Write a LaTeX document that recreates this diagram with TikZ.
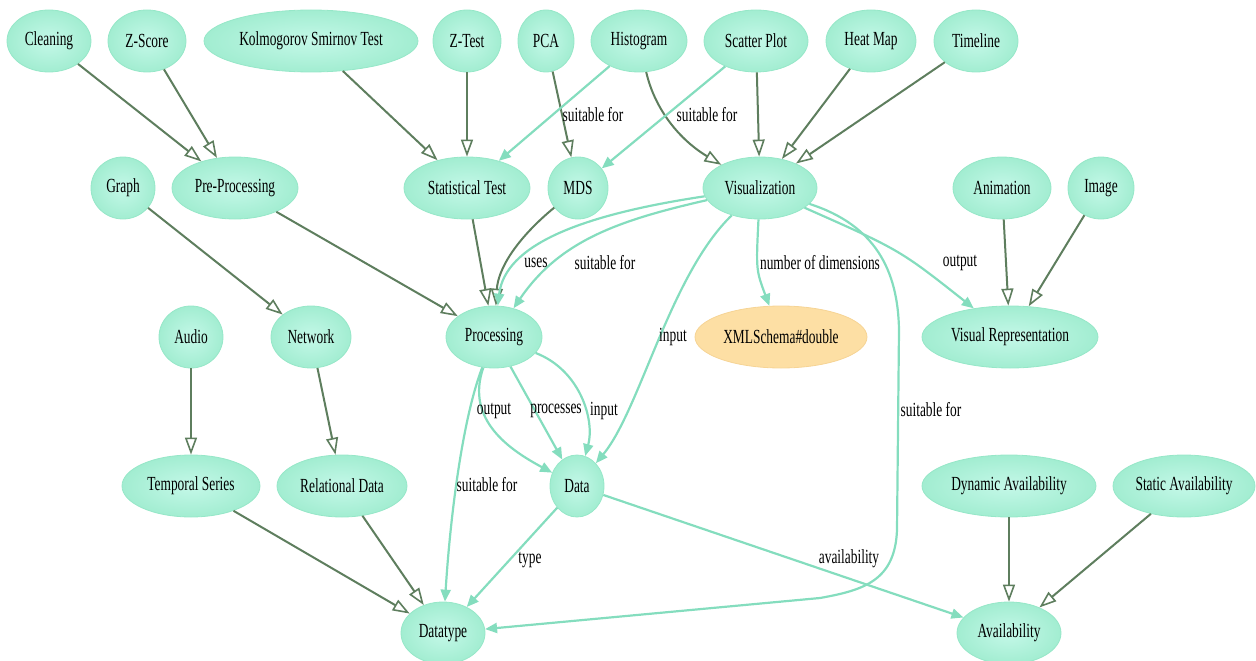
\documentclass[tikz,border=0pt]{standalone}
\usepackage{fontspec}
\setmainfont[FakeStretch=0.67]{Liberation Serif}
\usetikzlibrary{shapes.geometric,arrows.meta}
\definecolor{nodefill}{HTML}{A2EDD1}
\definecolor{nodeinner}{HTML}{C4F8E8}
\definecolor{nodeedge}{HTML}{96E7C8}
\definecolor{darkedge}{HTML}{5E7E5E}
\definecolor{mintedge}{HTML}{84DDBE}
\definecolor{orangefill}{HTML}{FDDFA4}
\definecolor{orangeedge}{HTML}{F6D495}
\begin{document}
\begin{tikzpicture}[x=1pt,y=-1pt,
  txt/.style={font=\fontsize{20}{20}\selectfont},
  ent/.style={ellipse, txt, inner sep=0pt, draw=nodeedge, line width=0.8pt,
    shade, inner color=nodeinner, outer color=nodefill, minimum height=62pt},
  lit/.style={ellipse, txt, inner sep=0pt, draw=orangeedge, line width=0.8pt,
    fill=orangefill, minimum height=62pt},
  isa/.style={darkedge, line width=2pt,
    -{Triangle[open, length=17pt, width=12pt, line width=1.6pt]}},
  prop/.style={mintedge, line width=2.2pt, -{Triangle[length=12pt, width=10pt]}},
  lbl/.style={txt, inner sep=1pt}]
\useasboundingbox (0,0) rectangle (1256,661);
% row 1
\node[ent, minimum width=84pt] (clean) at (49,41) {Cleaning};
\node[ent, minimum width=78pt] (zscore) at (147,41) {Z-Score};
\node[ent, minimum width=214pt] (ks) at (311,41) {Kolmogorov Smirnov Test};
\node[ent, minimum width=68pt] (ztest) at (467,41) {Z-Test};
\node[ent, minimum width=56pt] (pca) at (546,41) {PCA};
\node[ent, minimum width=96pt] (hist) at (639,41) {Histogram};
\node[ent, minimum width=104pt] (scatter) at (756,41) {Scatter Plot};
\node[ent, minimum width=90pt] (heat) at (871,41) {Heat Map};
\node[ent, minimum width=84pt] (time) at (976,41) {Timeline};
% row 2
\node[ent, minimum width=64pt] (graph) at (123,188) {Graph};
\node[ent, minimum width=126pt] (pre) at (235,188) {Pre-Processing};
\node[ent, minimum width=126pt] (stat) at (467,188) {Statistical Test};
\node[ent, minimum width=60pt] (mds) at (578,188) {MDS};
\node[ent, minimum width=114pt] (vis) at (760,188) {Visualization};
\node[ent, minimum width=98pt] (anim) at (1002,188) {Animation};
\node[ent, minimum width=66pt] (img) at (1101,188) {Image};
% row 3
\node[ent, minimum width=64pt] (audio) at (191,337) {Audio};
\node[ent, minimum width=80pt] (net) at (311,337) {Network};
\node[ent, minimum width=96pt] (proc) at (494,337) {Processing};
\node[lit, minimum width=172pt] (xml) at (781,337) {XMLSchema\#double};
\node[ent, minimum width=176pt] (visrep) at (1010,337) {Visual Representation};
% row 4
\node[ent, minimum width=138pt] (temp) at (191,486) {Temporal Series};
\node[ent, minimum width=130pt] (rel) at (342,486) {Relational Data};
\node[ent, minimum width=54pt] (data) at (577,486) {Data};
\node[ent, minimum width=174pt] (dyn) at (1009,486) {Dynamic Availability};
\node[ent, minimum width=142pt] (stav) at (1184,486) {Static Availability};
% row 5
\node[ent, minimum width=84pt] (dtype) at (443,633) {Datatype};
\node[ent, minimum width=104pt] (avail) at (1009,633) {Availability};

% subclass edges
\draw[isa] (clean) -- (pre);
\draw[isa] (zscore) -- (pre);
\draw[isa] (ks) -- (stat);
\draw[isa] (ztest) -- (stat);
\draw[isa] (pca) -- (mds);
\draw[isa] (hist) .. controls (655,110) and (680,140) .. (vis);
\draw[isa] (scatter) -- (vis);
\draw[isa] (heat) -- (vis);
\draw[isa] (time) -- (vis);
\draw[isa] (graph) -- (net);
\draw[isa] (pre) -- (proc);
\draw[isa] (stat) -- (proc);
\draw[isa] (mds) .. controls (515,240) and (498,270) .. (proc);
\draw[isa] (anim) -- (visrep);
\draw[isa] (img) -- (visrep);
\draw[isa] (audio) -- (temp);
\draw[isa] (net) -- (rel);
\draw[isa] (temp) -- (dtype);
\draw[isa] (rel) -- (dtype);
\draw[isa] (dyn) -- (avail);
\draw[isa] (stav) -- (avail);

% property edges
\draw[prop] (hist) -- (stat);
\draw[prop] (scatter) -- (mds);
\draw[prop] (vis) .. controls (580,215) and (505,245) .. (proc);
\draw[prop] (vis) .. controls (620,220) and (560,240) .. (proc);
\draw[prop] (vis) .. controls (756,270) .. (xml);
\draw[prop] (vis) .. controls (900,250) .. (visrep);
\draw[prop] (vis) .. controls (670,275) and (640,410) .. (data);
\draw[prop] (vis) .. controls (875,225) and (898,270) .. (899,330)
  -- (897,530) .. controls (895,580) and (865,590) .. (820,598) -- (dtype);
\draw[prop] (proc) .. controls (465,420) and (510,450) .. (data);
\draw[prop] (proc) -- (data);
\draw[prop] (proc) .. controls (580,370) and (595,420) .. (data);
\draw[prop] (proc) .. controls (462,420) and (450,520) .. (dtype);
\draw[prop] (data) -- (dtype);
\draw[prop] (data) -- (avail);

% labels
\node[lbl] (l1) at (593,115) {suitable for};
\node[lbl] (l2) at (707,115) {suitable for};
\node[lbl] (l3) at (536,263) {uses};
\node[lbl] (l4) at (605,263) {suitable for};
\node[lbl] (l5) at (820,263) {number of dimensions};
\node[lbl] (l6) at (960,263) {output};
\node[lbl] (l7) at (673,337) {input};
\node[lbl] (l8) at (931,410) {suitable for};
\node[lbl] (l9) at (494,411) {output};
\node[lbl] (l10) at (556,411) {processes};
\node[lbl] (l11) at (604,411) {input};
\node[lbl] (l12) at (487,485) {suitable for};
\node[lbl] (l13) at (530,560) {type};
\node[lbl] (l14) at (849,559) {availability};
\end{tikzpicture}
\end{document}
